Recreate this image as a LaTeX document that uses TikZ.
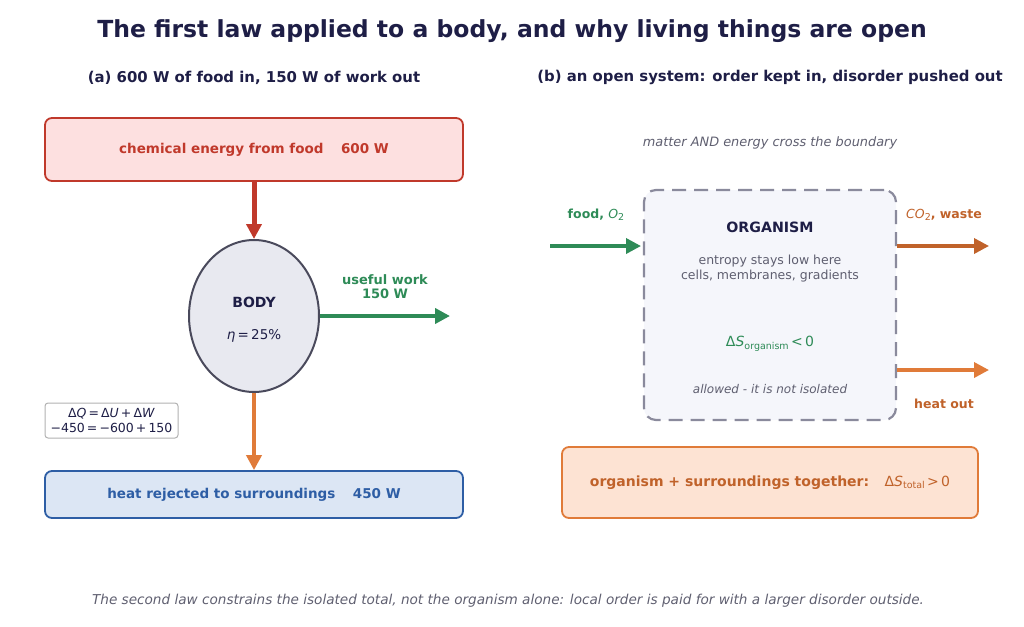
\documentclass[tikz,border=0pt]{standalone}
\usepackage{fontspec}
\setmainfont{DejaVu Sans}
\usetikzlibrary{arrows.meta,shapes.geometric}
\definecolor{navy}{HTML}{1E1E46}
\definecolor{redc}{HTML}{C0392B}
\definecolor{redfill}{HTML}{FDE0E0}
\definecolor{bluec}{HTML}{2E5EA5}
\definecolor{bluefill}{HTML}{DCE6F4}
\definecolor{greenc}{HTML}{2E8B57}
\definecolor{orangec}{HTML}{E07B39}
\definecolor{dorange}{HTML}{C0622A}
\definecolor{orfill}{HTML}{FDE3D3}
\definecolor{grayt}{HTML}{5F5F70}
\definecolor{bodyfill}{HTML}{E8E9F0}
\definecolor{bodyline}{HTML}{4A4A5C}
\definecolor{orgfill}{HTML}{F5F6FB}
\definecolor{orgline}{HTML}{8A8A9C}
\newcommand\fs[1]{\fontsize{#1}{14}\selectfont}
\newcommand\fsb[2]{\fontsize{#1}{#2}\selectfont}
\newcommand\lowsub[1]{\raisebox{-0.35ex}{\fontsize{9.5}{9.5}\selectfont #1}}
\tikzset{
  box/.style={draw, line width=1.8pt, rounded corners=7pt, minimum height=#1, inner sep=0pt},
  flow/.style={line width=#1, -{Triangle[length=15pt,width=15pt]}},
  lbl/.style={inner sep=0pt, align=center, yshift=-1.5pt},
}
\begin{document}
\begin{tikzpicture}[x=1pt,y=-1pt]
\useasboundingbox (0,0) rectangle (1024,626);
% titles
\node[lbl, text=navy, font=\bfseries\fs{23.5}] (title) at (512,30) {The first law applied to a body, and why living things are open};
\node[lbl, text=navy, font=\bfseries\fs{14.9}] (suba) at (254,76) {(a) 600 W of food in, 150 W of work out};
\node[lbl, text=navy, font=\bfseries\fs{14.9}] (subb) at (770,76) {(b) an open system: order kept in, disorder pushed out};

% left panel
\node[box=63pt, minimum width=418pt, draw=redc, fill=redfill, text=redc, font=\bfseries\fs{13.5}] (food) at (254,149.5) {chemical energy from food\hspace{1.3em}600 W};
\node[draw=bodyline, fill=bodyfill, line width=2pt, ellipse, minimum width=130pt, minimum height=152pt, inner sep=0pt] (body) at (254,316) {};
\node[lbl, text=navy, font=\bfseries\fs{14}] (bodyt) at (254,301) {BODY};
\node[lbl, text=navy, font=\fs{13.5}] (eta) at (254,334) {\textit{η}\,=\,25\%};
\coordinate (workend) at (450,316);
\node[lbl, text=greenc, font=\bfseries\fs{13}] (workl) at (385,285) {useful work\\150 W};
\node[box=47pt, minimum width=418pt, draw=bluec, fill=bluefill, text=bluec, font=\bfseries\fs{13.5}] (heat) at (254,494.5) {heat rejected to surroundings\hspace{1.3em}450 W};
\node[draw=gray!60, line width=1pt, fill=white, rounded corners=3pt, minimum width=133pt, minimum height=35pt, align=center, inner sep=0pt, font=\fsb{12.5}{15}, text=navy] (eq) at (111.5,420.5) {Δ\textit{Q}\,=\,Δ\textit{U}\,+\,Δ\textit{W}\\−450\,=\,−600\,+\,150};

\draw[flow=5pt, redc] (food.south) -- (body.north);
\draw[flow=4pt, greenc] (body.east) -- (workend);
\draw[flow=4pt, orangec] (body.south) -- (heat.north);

% right panel
\node[lbl, text=grayt, font=\itshape\fs{12.9}] (cross) at (770,141) {matter AND energy cross the boundary};
\node[draw=orgline, fill=orgfill, line width=2.2pt, dash pattern=on 14pt off 8pt, rounded corners=12pt, minimum width=252pt, minimum height=230pt, inner sep=0pt] (org) at (770,305) {};
\node[lbl, text=navy, font=\bfseries\fs{14.2}] (orgt) at (770,226) {ORGANISM};
\node[lbl, text=grayt, font=\fsb{12.5}{14.5}] (orgd) at (770,267) {entropy stays low here\\cells, membranes, gradients};
\node[lbl, text=greenc, font=\fs{14}] (dso) at (770,342) {Δ\textit{S}\lowsub{organism}\,<\,0};
\node[lbl, text=grayt, font=\itshape\fs{12}] (allowed) at (770,388) {allowed - it is not isolated};

\coordinate (foodin) at (550,246);
\coordinate (orgin) at (641,246);
\coordinate (co2s) at (897,246);
\coordinate (co2e) at (989,246);
\coordinate (heats) at (897,370);
\coordinate (heate) at (989,370);
\draw[flow=3.5pt, greenc] (foodin) -- (orgin);
\draw[flow=3.5pt, dorange] (co2s) -- (co2e);
\draw[flow=3.5pt, orangec] (heats) -- (heate);
\node[lbl, text=greenc, font=\bfseries\fs{12.5}] (foodl) at (596,213.5) {food, {\mdseries\itshape O}\lowsub{\mdseries 2}};
\node[lbl, text=dorange, font=\bfseries\fs{12.5}] (co2l) at (944,213.5) {{\mdseries\itshape CO}\lowsub{\mdseries 2}, waste};
\node[lbl, text=dorange, font=\bfseries\fs{12.5}] (heatl) at (944,402) {heat out};

\node[box=71pt, minimum width=416pt, draw=orangec, fill=orfill, text=dorange, font=\bfseries\fs{14}] (total) at (770,482.5) {organism + surroundings together:\hspace{1.1em}{\mdseries Δ\textit{S}\lowsub{total}\,>\,0}};

\node[lbl, text=grayt, font=\itshape\fs{13.6}] (foot) at (508,599) {The second law constrains the isolated total, not the organism alone: local order is paid for with a larger disorder outside.};
\end{tikzpicture}
\end{document}
